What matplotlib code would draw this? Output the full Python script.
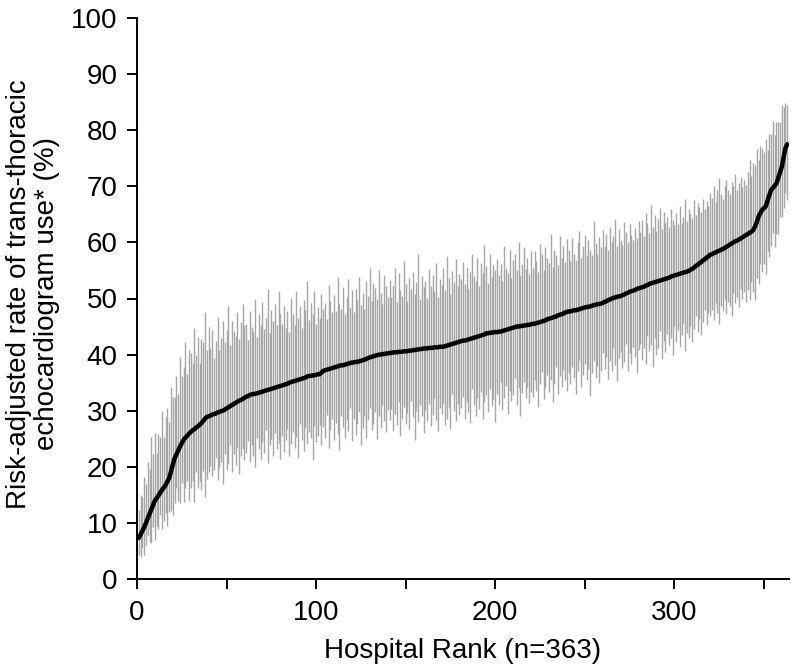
import numpy as np
import matplotlib
matplotlib.use("Agg")
import matplotlib.pyplot as plt

# risk-adjusted rate per hospital (%), sorted by rank
rate = [
    7.3, 7.9, 8.6, 9.2, 10.0, 10.8, 11.6, 12.4, 13.2, 14.0, 14.4, 14.9, 15.4, 15.9, 16.3, 16.8, 17.4, 18.0, 19.2, 20.4,
    21.5, 22.2, 22.9, 23.6, 24.2, 24.8, 25.2, 25.5, 25.9, 26.2, 26.5, 26.7, 27.0, 27.2, 27.5, 27.8, 28.2, 28.6, 28.9, 29.0,
    29.1, 29.3, 29.4, 29.5, 29.7, 29.8, 29.9, 30.0, 30.2, 30.4, 30.6, 30.8, 31.0, 31.2, 31.4, 31.6, 31.8, 31.9, 32.1, 32.3,
    32.5, 32.6, 32.8, 32.9, 33.0, 33.0, 33.1, 33.2, 33.3, 33.4, 33.5, 33.6, 33.7, 33.8, 33.9, 34.0, 34.1, 34.2, 34.3, 34.4,
    34.5, 34.6, 34.7, 34.8, 35.0, 35.1, 35.2, 35.3, 35.4, 35.5, 35.6, 35.7, 35.8, 35.9, 36.1, 36.2, 36.2, 36.3, 36.3, 36.4,
    36.5, 36.5, 36.8, 37.1, 37.2, 37.3, 37.4, 37.5, 37.6, 37.7, 37.8, 37.9, 38.0, 38.1, 38.1, 38.2, 38.3, 38.4, 38.5, 38.6,
    38.6, 38.7, 38.7, 38.8, 38.9, 39.0, 39.1, 39.2, 39.4, 39.5, 39.6, 39.7, 39.8, 39.9, 40.0, 40.0, 40.1, 40.1, 40.2, 40.2,
    40.3, 40.3, 40.4, 40.4, 40.4, 40.5, 40.5, 40.5, 40.6, 40.6, 40.6, 40.7, 40.7, 40.8, 40.8, 40.9, 40.9, 41.0, 41.0, 41.1,
    41.1, 41.1, 41.2, 41.2, 41.2, 41.3, 41.3, 41.3, 41.4, 41.4, 41.4, 41.5, 41.6, 41.7, 41.8, 41.9, 42.0, 42.1, 42.2, 42.3,
    42.4, 42.5, 42.5, 42.6, 42.7, 42.8, 42.9, 43.0, 43.1, 43.2, 43.3, 43.4, 43.5, 43.6, 43.8, 43.8, 43.9, 43.9, 44.0, 44.0,
    44.0, 44.1, 44.1, 44.2, 44.3, 44.4, 44.5, 44.6, 44.7, 44.8, 44.9, 45.0, 45.0, 45.1, 45.1, 45.2, 45.2, 45.3, 45.3, 45.4,
    45.5, 45.5, 45.6, 45.7, 45.8, 45.9, 46.0, 46.1, 46.3, 46.4, 46.5, 46.6, 46.7, 46.8, 47.0, 47.1, 47.2, 47.3, 47.5, 47.6,
    47.7, 47.7, 47.8, 47.9, 47.9, 48.0, 48.1, 48.2, 48.3, 48.4, 48.5, 48.5, 48.6, 48.7, 48.8, 48.9, 49.0, 49.0, 49.1, 49.2,
    49.4, 49.5, 49.7, 49.8, 50.0, 50.1, 50.2, 50.3, 50.4, 50.4, 50.6, 50.7, 50.9, 51.0, 51.2, 51.3, 51.4, 51.5, 51.7, 51.8,
    51.9, 52.0, 52.1, 52.3, 52.4, 52.6, 52.7, 52.8, 52.9, 53.0, 53.1, 53.2, 53.3, 53.4, 53.5, 53.6, 53.7, 53.9, 54.0, 54.1,
    54.2, 54.3, 54.4, 54.5, 54.6, 54.7, 54.8, 54.9, 55.1, 55.3, 55.5, 55.8, 56.0, 56.3, 56.5, 56.8, 57.0, 57.3, 57.5, 57.8,
    57.9, 58.1, 58.2, 58.4, 58.5, 58.7, 58.8, 59.0, 59.2, 59.4, 59.6, 59.8, 60.0, 60.2, 60.3, 60.5, 60.7, 60.9, 61.1, 61.3,
    61.5, 61.7, 61.9, 62.2, 62.8, 63.6, 64.6, 65.2, 65.8, 66.1, 66.4, 67.4, 68.4, 69.3, 69.7, 70.1, 70.5, 71.5, 72.5, 73.5,
    75.2, 76.8, 77.5,
]

# distance from the rate down to the lower CI limit
ci_below = [
    3, 4, 3, 5, 4, 3, 5, 6, 4, 7, 5, 6, 4, 7, 6, 5, 8, 6, 7, 9,
    8, 6, 9, 10, 7, 11, 9, 8, 12, 10, 9, 13, 8, 11, 10, 12, 9, 14, 11, 10,
    9, 11, 10, 8, 12, 10, 9, 13, 8, 11, 10, 7, 12, 9, 11, 8, 13, 10, 9, 11,
    10, 8, 12, 9, 11, 13, 8, 10, 12, 9, 11, 7, 13, 10, 9, 12, 8, 11, 10, 13,
    9, 12, 10, 8, 13, 11, 9, 12, 10, 14, 8, 11, 13, 9, 12, 10, 11, 15, 9, 12,
    11, 9, 13, 10, 12, 8, 14, 11, 9, 13, 10, 12, 15, 9, 11, 13, 10, 12, 8, 14,
    10, 13, 11, 9, 15, 12, 10, 14, 11, 9, 13, 12, 10, 15, 11, 13, 9, 12, 14, 10,
    12, 10, 14, 11, 13, 9, 15, 12, 10, 13, 11, 14, 9, 12, 16, 11, 13, 10, 12, 15,
    11, 13, 10, 14, 12, 9, 13, 15, 11, 12, 10, 14, 13, 11, 15, 9, 12, 14, 11, 13,
    12, 10, 14, 11, 13, 15, 9, 12, 14, 11, 13, 10, 15, 12, 11, 14, 10, 13, 12, 16,
    11, 13, 9, 14, 12, 10, 15, 11, 13, 12, 9, 14, 11, 16, 12, 10, 13, 11, 14, 12,
    13, 10, 12, 15, 11, 9, 14, 12, 10, 13, 11, 15, 12, 9, 14, 11, 13, 10, 12, 14,
    11, 13, 10, 12, 15, 11, 9, 14, 12, 10, 13, 11, 16, 12, 10, 13, 11, 14, 12, 9,
    12, 10, 14, 11, 13, 9, 12, 15, 11, 10, 13, 12, 9, 14, 11, 13, 10, 12, 15, 11,
    10, 13, 11, 14, 9, 12, 11, 15, 10, 13, 12, 9, 14, 11, 13, 10, 12, 11, 14, 9,
    12, 10, 13, 11, 9, 14, 11, 12, 10, 13, 11, 9, 12, 10, 13, 11, 9, 12, 10, 11,
    10, 12, 9, 11, 13, 10, 11, 9, 12, 10, 11, 13, 9, 11, 10, 12, 9, 11, 10, 12,
    10, 12, 9, 11, 13, 10, 12, 9, 11, 10, 12, 9, 11, 10, 8, 11, 9, 10, 8, 9,
    9, 8, 10,
]

# distance from the rate up to the upper CI limit
ci_above = [
    5, 7, 6, 9, 7, 10, 8, 13, 9, 12, 8, 11, 10, 14, 9, 12, 13, 10, 15, 12,
    11, 14, 10, 16, 12, 13, 17, 11, 15, 14, 12, 18, 13, 16, 11, 15, 14, 19, 12, 16,
    12, 15, 10, 13, 17, 11, 13, 16, 12, 14, 18, 11, 15, 13, 12, 16, 11, 14, 17, 13,
    13, 10, 15, 12, 11, 17, 10, 14, 12, 16, 11, 13, 18, 10, 14, 12, 15, 11, 17, 13,
    11, 14, 10, 13, 9, 15, 12, 10, 16, 11, 13, 9, 14, 12, 17, 10, 13, 11, 15, 9,
    12, 10, 14, 11, 12, 9, 15, 12, 10, 13, 10, 16, 11, 10, 14, 9, 12, 15, 10, 13,
    9, 13, 11, 15, 10, 12, 9, 14, 11, 16, 10, 13, 12, 10, 15, 11, 9, 14, 12, 10,
    13, 10, 12, 15, 9, 14, 11, 10, 16, 12, 9, 13, 11, 14, 10, 12, 17, 9, 13, 11,
    12, 9, 14, 11, 13, 10, 15, 9, 12, 11, 14, 10, 16, 12, 9, 13, 11, 15, 10, 12,
    11, 14, 10, 13, 9, 12, 15, 11, 10, 14, 9, 13, 11, 16, 12, 9, 14, 10, 12, 11,
    13, 10, 12, 9, 15, 11, 10, 14, 9, 12, 13, 10, 15, 9, 11, 14, 10, 12, 9, 13,
    10, 13, 11, 9, 14, 12, 9, 13, 11, 10, 15, 9, 12, 11, 9, 14, 10, 12, 9, 13,
    11, 9, 13, 10, 9, 12, 14, 9, 11, 13, 9, 12, 10, 9, 15, 11, 9, 12, 10, 13,
    10, 12, 9, 13, 10, 11, 14, 9, 12, 10, 9, 13, 11, 9, 12, 10, 9, 11, 9, 12,
    10, 12, 9, 13, 11, 9, 14, 10, 12, 9, 11, 13, 9, 12, 10, 11, 9, 12, 10, 9,
    11, 9, 12, 9, 10, 13, 9, 11, 10, 9, 12, 9, 11, 10, 9, 11, 9, 10, 9, 11,
    10, 12, 9, 11, 13, 10, 9, 11, 12, 10, 9, 11, 10, 12, 9, 10, 11, 9, 10, 9,
    11, 13, 10, 12, 11, 13, 10, 12, 11, 10, 12, 9, 11, 10, 12, 9, 11, 10, 9, 11,
    9, 8, 7,
]

x_ticks = [0, 50, 100, 150, 200, 250, 300, 350]
x_tick_labels = ["0", "", "100", "", "200", "", "300", ""]
y_ticks = list(range(0, 101, 10))

plt.rcParams["font.family"] = ["Liberation Sans", "DejaVu Sans"]

fig = plt.figure(figsize=(7.91, 6.69), dpi=100)
ax = fig.add_axes([137 / 791, 90 / 669, 652 / 791, 561 / 669])

rank = np.arange(1, len(rate) + 1)
est = np.array(rate)
lower = est - np.array(ci_below)
upper = est + np.array(ci_above)

ax.vlines(rank, lower, upper, colors="#a6a6a6", linewidth=1.0, zorder=1)
ax.plot(rank, est, color="black", linewidth=3.2, solid_capstyle="round", zorder=2)

ax.set_xlim(0, 364)
ax.set_ylim(0, 100)
ax.set_xticks(x_ticks)
ax.set_xticklabels(x_tick_labels)
ax.set_yticks(y_ticks)

for s in ["top", "right"]:
    ax.spines[s].set_visible(False)
for s in ["left", "bottom"]:
    ax.spines[s].set_linewidth(1.4)
ax.tick_params(axis="both", direction="out", length=7, width=1.4, labelsize=20)
ax.tick_params(axis="x", pad=8)
ax.tick_params(axis="y", pad=7)

ax.set_xlabel("Hospital Rank (n=363)", fontsize=20, labelpad=9)
fig.text(33 / 791, 1 - 294 / 669,
         "Risk-adjusted rate of trans-thoracic\nechocardiogram use* (%)",
         rotation=90, ha="center", va="center", multialignment="center",
         fontsize=20, linespacing=1.1)

fig.savefig("out.png", dpi=100)
